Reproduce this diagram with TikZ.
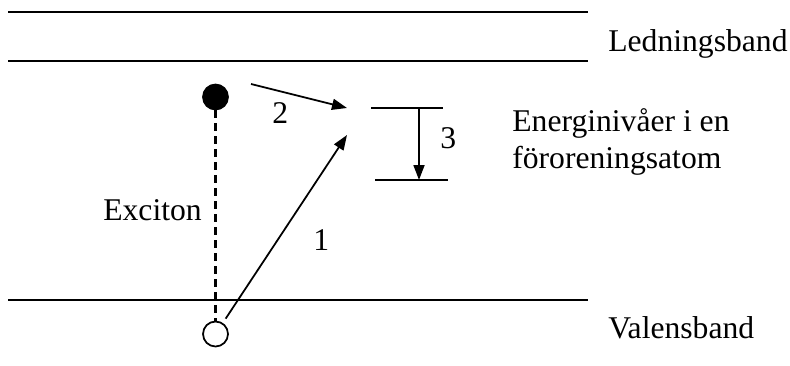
\documentclass[tikz,border=0pt]{standalone}
\usepackage{fontspec}
\setmainfont{Liberation Serif}
\usetikzlibrary{arrows.meta,positioning,calc}

\begin{document}
\begin{tikzpicture}[
    band/.style={
      line width=1.1pt
    },
    level/.style={
      line width=1pt
    },
    arr/.style={
      -{Triangle[length=0.3cm,width=0.22cm]},
      line width=1pt
    },
    lbl/.style={
      font=\fontsize{18}{20.5}\selectfont,
      anchor=base west,
      inner sep=0pt,
      align=left
    },
    particle/.style={
      circle,
      draw,
      line width=1pt,
      fill=#1,
      minimum size=0.5cm,
      inner sep=0pt
    }
  ]
  \useasboundingbox (0,0) rectangle (15.8,7.3);

  % Bands
  \coordinate (cb1) at (0.16,7.06);
  \coordinate (cb2) at (11.76,7.06);
  \coordinate (cb3) at (0.16,6.08);
  \coordinate (cb4) at (11.76,6.08);
  \coordinate (vb1) at (0.16,1.30);
  \coordinate (vb2) at (11.76,1.30);
  \draw[band] (cb1) -- (cb2);
  \draw[band] (cb3) -- (cb4);
  \draw[band] (vb1) -- (vb2);

  \node[lbl] (lband) at (12.16,6.26) {Ledningsband};
  \node[lbl] (vband) at (12.16,0.54) {Valensband};

  % Exciton
  \node[particle=black] (elec) at (4.31,5.36) {};
  \node[particle=white] (hole) at (4.31,0.62) {};
  \draw[line width=1.3pt,dash pattern=on 0.16cm off 0.1cm] (elec.south) -- (hole.north);
  \node[lbl] (exc) at (2.06,2.90) {Exciton};

  % Impurity levels
  \coordinate (lv1) at (7.42,5.14);
  \coordinate (lv2) at (8.86,5.14);
  \coordinate (lv3) at (7.50,3.70);
  \coordinate (lv4) at (8.96,3.70);
  \draw[level] (lv1) -- (lv2);
  \draw[level] (lv3) -- (lv4);
  \coordinate (d1) at (8.38,5.14);
  \coordinate (d2) at (8.38,3.70);
  \draw[arr] (d1) -- (d2);
  \node[lbl] (imp) at (10.24,3.94) {Energinivåer i en\\föroreningsatom};

  % Transitions
  \coordinate (t1) at (6.94,4.60);
  \coordinate (s2) at (5.02,5.62);
  \coordinate (t2) at (6.94,5.14);
  \draw[arr,shorten <=0.1cm] (hole) -- (t1);
  \draw[arr] (s2) -- (t2);

  \node[lbl] (n1) at (6.26,2.30) {1};
  \node[lbl] (n2) at (5.44,4.84) {2};
  \node[lbl] (n3) at (8.80,4.34) {3};

\end{tikzpicture}
\end{document}
